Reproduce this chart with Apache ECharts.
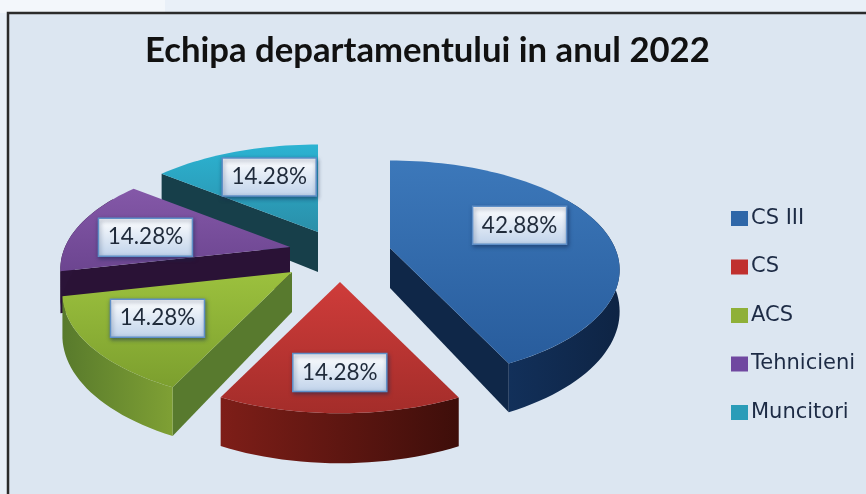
<!DOCTYPE html>
<html><head><meta charset="utf-8">
<style>html,body{margin:0;padding:0;background:#e9f0f8}#c{width:866px;height:494px;filter:blur(.45px)}</style>
<script src="https://cdn.jsdelivr.net/npm/echarts@6/dist/echarts.min.js"></script>
</head><body><div id="c"></div>
<script>
const titleText = 'Echipa departamentului in anul 2022';
const categories = ['CS III', 'CS', 'ACS', 'Tehnicieni', 'Muncitori'];
const shares = [42.88, 14.28, 14.28, 14.28, 14.28];

// Look of the exploded 3-D pie
const centre = [320, 250];
const explode = [[70, -2], [20, 32], [-28, 22], [-30, -3], [-2, -18]];
const labelNudge = [[-9, -8], [0, 12], [-10, 0], [-6, 5], [8, 0]];
const paintOrder = [3, 5, 4, 2, 1];
const RX = 225, RY = 105, PERSP = 0.2, DEPTH = 40, LABEL_T = 0.65;
const topColors = [['#3c78ba', '#285c9c'], ['#cf3c3a', '#a42d2a'], ['#9cc13e', '#7c9f2e'], ['#8458a8', '#6c4590'], ['#2cb3d2', '#2a8fa9']];
const arcColors = [['#12305a', '#0e2444'], ['#7e1e18', '#3e0e0a'], ['#7fa034', '#587a2c'], ['#2b1338', '#2b1338'], ['#163f49', '#163f49']];
const cutColors = ['#0f2748', '#5a1512', '#587a2e', '#2a1236', '#173f4a'];
const legendColors = ['#2f67a8', '#c0302e', '#8fb038', '#7048a0', '#2a9cb8'];

const total = shares.reduce((a, b) => a + b, 0);
const project = (deg, t) => {
  const a = deg * Math.PI / 180, u = Math.sin(a) * t, v = -Math.cos(a) * t, f = 1 / (1 - PERSP * v);
  return [RX * u * f, RY * v * f];
};
const vgrad = c => new echarts.graphic.LinearGradient(0, 0, 0, 1, [{offset: 0, color: c[0]}, {offset: 1, color: c[1]}]);
const hgrad = c => new echarts.graphic.LinearGradient(0, 0, 1, 0, [{offset: 0, color: c[0]}, {offset: 1, color: c[1]}]);

function arcPoints(from, to) {
  const pts = [], n = Math.max(2, Math.ceil((to - from) / 2));
  for (let k = 0; k <= n; k++) pts.push(from + (to - from) * k / n);
  return pts;
}
function buildSlice(i, value) {
  const before = shares.slice(0, i).reduce((a, b) => a + b, 0);
  const a0 = before / total * 360, a1 = a0 + value / total * 360;
  const ax = centre[0] + explode[i][0], ay = centre[1] + explode[i][1];
  const pt = (deg, t) => { const p = project(deg, t); return [ax + p[0], ay + p[1]]; };
  const drop = (p, deg, t) => {
    const v = -Math.cos(deg * Math.PI / 180) * t;
    return [p[0], p[1] + DEPTH / (1 - PERSP * v)];
  };
  const kids = [];
  const apex = [ax, ay], apexLow = [ax, ay + DEPTH];
  const wall = (deg, fill) => {
    const r = pt(deg, 1);
    kids.push({type: 'polygon', shape: {points: [apex, r, drop(r, deg, 1), apexLow]}, style: {fill}});
  };
  const s0 = Math.sin(a0 * Math.PI / 180), s1 = Math.sin(a1 * Math.PI / 180);
  if (s0 < -0.01) wall(a0, cutColors[i]);
  if (s1 > 0.01) wall(a1, cutColors[i]);
  const w0 = Math.max(a0, 60), w1 = Math.min(a1, 300);
  if (w1 > w0) {
    const up = arcPoints(w0, w1).map(d => pt(d, 1));
    const low = arcPoints(w0, w1).map(d => drop(pt(d, 1), d, 1)).reverse();
    kids.push({type: 'polygon', shape: {points: up.concat(low)}, style: {fill: hgrad(i === 2 ? [arcColors[i][1], arcColors[i][0]] : arcColors[i])}});
  }
  const rim = arcPoints(a0, a1).map(d => pt(d, 1));
  kids.push({type: 'polygon', shape: {points: [apex].concat(rim)}, style: {fill: vgrad(topColors[i])}});

  const mid = (a0 + a1) / 2, lp = pt(mid, LABEL_T);
  const lx = lp[0] + labelNudge[i][0], ly = lp[1] + labelNudge[i][1];
  kids.push({type: 'rect', shape: {x: lx - 47, y: ly - 19, width: 94, height: 38},
    style: {fill: new echarts.graphic.LinearGradient(0, 0, 0, 1, [{offset: 0, color: '#ffffff'}, {offset: 1, color: '#bfd2ea'}]),
      stroke: '#5f8fc8', lineWidth: 1.5, shadowBlur: 4, shadowColor: 'rgba(20,40,80,.55)', shadowOffsetX: 1, shadowOffsetY: 2}});
  kids.push({type: 'text', style: {x: lx, y: ly, text: value.toFixed(2) + '%', align: 'center', verticalAlign: 'middle',
    font: '22.5px Lato, "Noto Sans", sans-serif', fill: '#1f2a3a'}});
  return {type: 'group', children: kids};
}

const chart = echarts.init(document.getElementById('c'), null, {renderer: 'canvas'});
chart.setOption({
  animation: false,
  backgroundColor: '#e9f0f8',
  title: {text: titleText, left: 140, top: 28, textStyle: {fontFamily: 'Lato', fontWeight: 'bold', fontSize: 34.7, color: '#111'}},
  legend: {
    data: categories, orient: 'vertical', left: 731, top: 208, padding: 0, icon: 'rect', itemWidth: 17, itemHeight: 15, itemGap: 27.5,
    selectedMode: false,
    textStyle: {fontFamily: '"DejaVu Sans"', fontSize: 21, color: '#1d2b45', padding: [0, 0, 0, -2], height: 20, lineHeight: 20}
  },
  graphic: [
    {type: 'rect', z: -11, silent: true, shape: {x: 0, y: 0, width: 165, height: 13}, style: {fill: '#f3f7fb'}},
    {type: 'rect', z: -10, silent: true, shape: {x: 8, y: 13, width: 900, height: 520},
      style: {fill: '#dce6f1', stroke: '#2b2b2b', lineWidth: 2.5}}
  ],
  series: categories.map((name, i) => ({
    type: 'custom', name, coordinateSystem: 'none', z: paintOrder[i] + 2, silent: true,
    itemStyle: {color: legendColors[i]},
    data: [shares[i]],
    renderItem: (p, api) => buildSlice(i, api.value(0))
  }))
});
</script></body></html>
